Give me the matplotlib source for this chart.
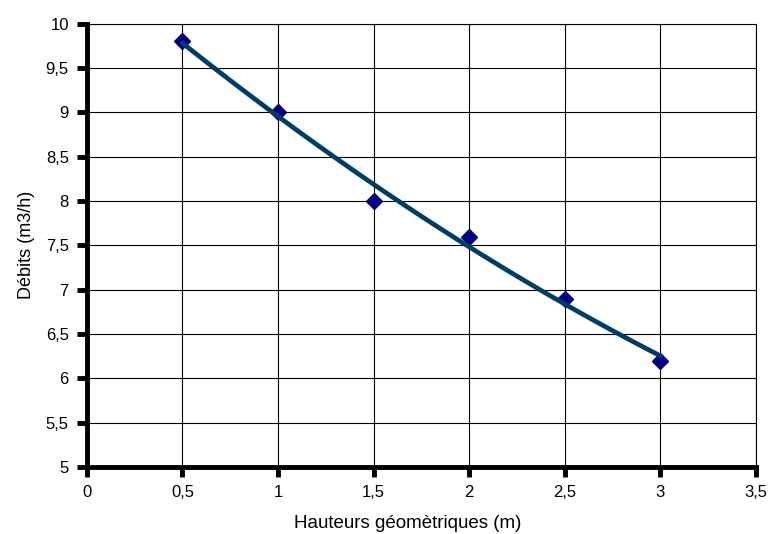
import numpy as np
import matplotlib.pyplot as plt

plt.rcParams['font.family'] = ['Liberation Sans', 'DejaVu Sans']

hauteurs = [0.5, 1.0, 1.5, 2.0, 2.5, 3.0]
debits = [9.8, 9.0, 8.0, 7.6, 6.9, 6.2]
xticks = [0, 0.5, 1, 1.5, 2, 2.5, 3, 3.5]
yticks = [5, 5.5, 6, 6.5, 7, 7.5, 8, 8.5, 9, 9.5, 10]

def fr(v):
    return ('%g' % v).replace('.', ',')

fig = plt.figure(figsize=(7.69, 5.34), dpi=100)
ax = fig.add_axes([0.113, 0.1255, 0.870, 0.830])

# courbe de tendance polynomiale (ordre 2)
coef = np.polyfit(hauteurs, debits, 2)
xs = np.linspace(min(hauteurs), max(hauteurs), 100)
ax.plot(hauteurs, debits, 'D', color='#000080', ms=8.5, zorder=3)
ax.plot(xs, np.polyval(coef, xs), color='#003d66', lw=3.4, zorder=4)

ax.set_xlim(0, 3.5)
ax.set_ylim(5, 10)
ax.set_xticks(xticks)
ax.set_yticks(yticks)
ax.set_xticklabels([fr(v) for v in xticks])
ax.set_yticklabels([fr(v) for v in yticks])
ax.grid(True, color='black', lw=0.8)
ax.set_axisbelow(True)

for s in ['left', 'bottom']:
    ax.spines[s].set_linewidth(3.5)
for s in ['right', 'top']:
    ax.spines[s].set_linewidth(0.8)
ax.tick_params(direction='out', length=7, width=3.5, labelsize=12, pad=6)

ax.set_xlabel('Hauteurs géomètriques (m)', fontsize=13.5)
ax.xaxis.set_label_coords(0.48, -0.108)
ax.set_ylabel('Débits (m3/h)', fontsize=13, labelpad=8)

fig.savefig('out.png', dpi=100)
